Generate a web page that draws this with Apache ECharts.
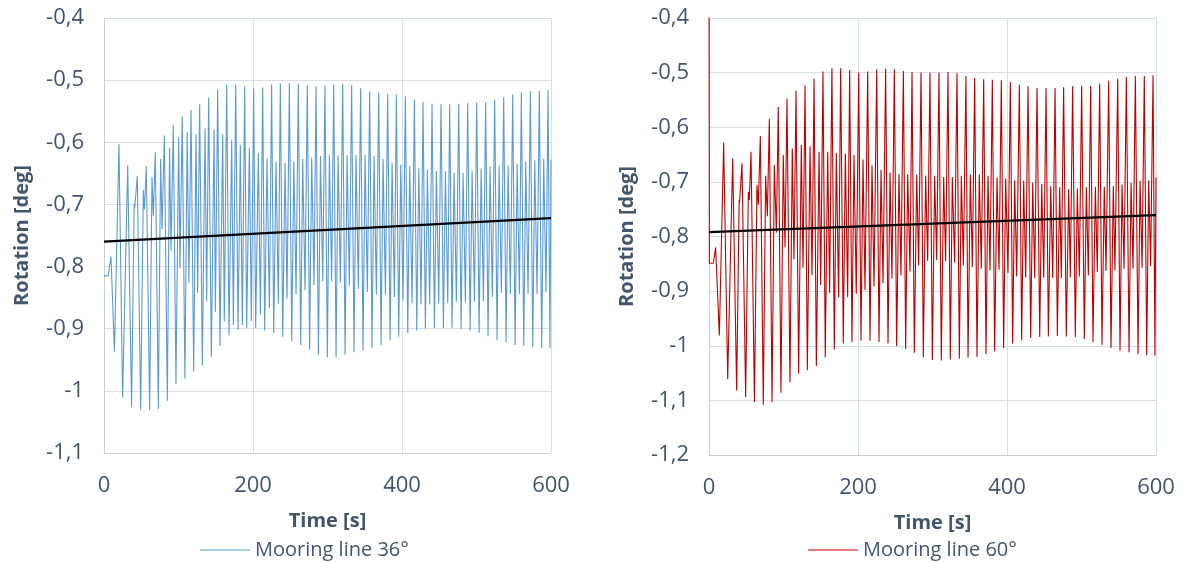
<!DOCTYPE html>
<html>
<head>
<meta charset="utf-8">
<script src="https://cdn.jsdelivr.net/npm/echarts@6/dist/echarts.min.js"></script>
<style>
html,body{margin:0;padding:0;background:#fff;}
#chart{width:1182px;height:562px;}
</style>
</head>
<body>
<div id="chart"></div>
<script>
// ---------- Data (time in s, rotation in deg) ----------
const xTicks = [0, 200, 400, 600];
const label36 = 'Mooring line 36°';
const label60 = 'Mooring line 60°';

// Mooring line 36° : start-up segment and per-cycle turning points
const time36Start = [0, 5.5, 9.4, 14.0];
const rot36Start  = [-0.815, -0.815, -0.784, -0.937];
const time36High = [20.1, 31.8, 44.7, 56.8, 68.9, 81.0, 93.0, 105.0, 116.8, 128.4, 140.5, 152.6, 164.7, 176.8, 188.8, 200.9, 213.0, 225.0, 236.7, 248.8,
  260.8, 272.9, 284.6, 296.6, 308.3, 320.4, 332.4, 344.5, 356.6, 368.7, 380.8, 392.4, 404.5, 416.6, 428.2, 440.3, 452.4, 464.0, 476.1, 488.2,
  500.3, 512.3, 524.4, 536.5, 548.6, 560.2, 572.3, 584.3, 596.0];
const rot36High = [-0.603, -0.637, -0.654, -0.638, -0.616, -0.589, -0.572, -0.559, -0.548, -0.539, -0.528, -0.515, -0.507, -0.507, -0.510, -0.513, -0.512, -0.507, -0.505, -0.505,
  -0.506, -0.508, -0.510, -0.509, -0.507, -0.506, -0.508, -0.513, -0.518, -0.520, -0.522, -0.523, -0.526, -0.531, -0.535, -0.538, -0.539, -0.539, -0.538, -0.537,
  -0.536, -0.535, -0.532, -0.527, -0.523, -0.520, -0.518, -0.517, -0.516];
const time36Deep = [25.0, 37.0, 49.2, 61.3, 72.9, 85.0, 96.6, 108.6, 120.4, 132.0, 144.1, 155.7, 167.8, 179.9, 191.5, 203.6, 215.7, 227.8, 239.9, 252.0,
  264.0, 276.0, 287.8, 299.8, 311.5, 323.6, 335.6, 347.7, 359.8, 371.9, 384.0, 395.6, 407.7, 419.8, 431.4, 443.5, 455.6, 467.2, 479.3, 491.4,
  503.5, 515.5, 527.6, 539.7, 551.8, 563.4, 575.5, 587.5, 598.6];
const rot36Deep = [-1.011, -1.026, -1.030, -1.031, -1.029, -1.016, -0.989, -0.980, -0.969, -0.959, -0.945, -0.928, -0.911, -0.902, -0.899, -0.899, -0.903, -0.907, -0.913, -0.920,
  -0.926, -0.934, -0.942, -0.946, -0.946, -0.942, -0.938, -0.935, -0.931, -0.926, -0.919, -0.913, -0.907, -0.903, -0.900, -0.899, -0.899, -0.899, -0.900, -0.903,
  -0.907, -0.912, -0.918, -0.922, -0.926, -0.928, -0.930, -0.931, -0.931];
const time36Mid = [40.5, 52.8, 64.4, 76.0, 88.0, 100.2, 111.7, 123.5, 135.6, 147.7, 159.3, 171.4, 183.0, 195.1, 207.2, 218.8, 230.9, 243.0,
  254.8, 266.7, 278.8, 290.6, 302.5, 314.2, 326.3, 338.3, 350.4, 362.5, 374.6, 386.7, 398.3, 410.4, 422.5, 434.1, 446.2, 458.3, 469.9, 482.0,
  494.1, 506.2, 518.2, 530.3, 542.4, 554.5, 566.1, 578.2, 590.2, 600];
const rot36Mid = [-0.699, -0.677, -0.656, -0.627, -0.609, -0.592, -0.584, -0.587, -0.578, -0.579, -0.587, -0.596, -0.604, -0.609, -0.617, -0.626, -0.631, -0.633,
  -0.631, -0.627, -0.625, -0.622, -0.621, -0.621, -0.621, -0.620, -0.620, -0.622, -0.627, -0.633, -0.636, -0.638, -0.642, -0.644, -0.646, -0.647, -0.649, -0.649,
  -0.646, -0.642, -0.639, -0.638, -0.637, -0.634, -0.631, -0.629, -0.627, -0.628];
const time36Shallow = [41.2, 54.2, 66.2, 77.9, 89.9, 102.0, 114.0, 125.7, 137.8, 149.5, 161.5, 173.6, 185.7, 197.8, 209.9, 222.0, 234.0, 245.7,
  257.8, 269.8, 281.9, 293.6, 305.6, 317.3, 329.4, 341.4, 353.5, 365.6, 377.7, 389.8, 401.4, 413.5, 425.6, 437.2, 449.3, 461.4, 473.0, 485.1,
  497.2, 509.3, 521.3, 533.4, 545.5, 557.6, 569.2, 581.3, 593.3];
const rot36Shallow = [-0.706, -0.708, -0.718, -0.740, -0.774, -0.803, -0.826, -0.842, -0.856, -0.873, -0.888, -0.894, -0.894, -0.888, -0.877, -0.867, -0.860, -0.852,
  -0.845, -0.838, -0.830, -0.824, -0.824, -0.826, -0.831, -0.836, -0.841, -0.845, -0.845, -0.849, -0.854, -0.859, -0.861, -0.861, -0.859, -0.859, -0.856, -0.858,
  -0.856, -0.856, -0.849, -0.842, -0.844, -0.844, -0.844, -0.844, -0.842];
const time36Trend = [0, 600];
const rot36Trend  = [-0.760, -0.722];

// Mooring line 60°
const time60Start = [0, 0.5, 5.8, 8.9, 13.9];
const rot60Start  = [-0.30, -0.849, -0.849, -0.820, -0.981];
const time60High = [19.7, 31.8, 44.3, 56.4, 68.9, 81.0, 93.0, 104.7, 116.8, 128.9, 141.0, 153.0, 165.0, 176.7, 188.8, 200.9, 213.0, 225.1, 237.1, 248.8,
  260.9, 272.5, 284.6, 296.6, 308.7, 320.8, 332.9, 344.9, 356.6, 368.7, 380.3, 392.4, 404.5, 416.6, 428.2, 440.3, 452.4, 464.5, 476.0, 488.1,
  500.2, 512.3, 524.4, 536.5, 548.6, 560.2, 572.3, 584.3, 596.0];
const rot60High = [-0.628, -0.657, -0.666, -0.645, -0.616, -0.585, -0.563, -0.548, -0.533, -0.523, -0.511, -0.498, -0.492, -0.492, -0.495, -0.500, -0.498, -0.494, -0.493, -0.494,
  -0.497, -0.499, -0.500, -0.500, -0.500, -0.499, -0.501, -0.506, -0.510, -0.512, -0.513, -0.514, -0.517, -0.522, -0.525, -0.528, -0.528, -0.528, -0.527, -0.525,
  -0.524, -0.524, -0.520, -0.515, -0.511, -0.508, -0.506, -0.506, -0.505];
const time60Deep = [25.1, 37.1, 49.2, 61.0, 72.9, 84.6, 96.6, 108.7, 120.3, 132.0, 144.1, 156.1, 168.2, 180.3, 191.9, 204.0, 216.1, 228.2, 240.3, 251.9,
  264.0, 275.6, 287.7, 299.8, 311.8, 323.9, 336.0, 347.7, 359.7, 371.8, 383.4, 395.5, 407.6, 419.7, 431.8, 443.9, 455.5, 467.6, 479.6, 491.7,
  503.8, 515.4, 527.5, 539.6, 551.7, 563.8, 575.9, 587.5, 598.6];
const rot60Deep = [-1.061, -1.082, -1.094, -1.103, -1.108, -1.103, -1.086, -1.067, -1.051, -1.045, -1.037, -1.021, -1.007, -0.996, -0.993, -0.991, -0.991, -0.993, -0.996, -1.001,
  -1.006, -1.013, -1.021, -1.026, -1.027, -1.025, -1.024, -1.022, -1.020, -1.015, -1.010, -1.004, -0.996, -0.990, -0.986, -0.984, -0.983, -0.982, -0.983, -0.984,
  -0.988, -0.993, -0.998, -1.004, -1.009, -1.012, -1.015, -1.017, -1.018];
const time60Mid = [40.5, 52.8, 64.4, 76.0, 87.7, 99.7, 111.8, 123.9, 135.6, 147.7, 159.3, 170.9, 183.0, 194.6, 206.7, 218.8, 230.9, 243.0,
  255.0, 266.7, 278.8, 290.8, 302.9, 315.0, 326.6, 338.7, 350.8, 362.8, 374.5, 386.6, 398.2, 410.3, 422.4, 434.5, 446.6, 458.7, 470.7, 482.8,
  494.4, 506.5, 518.6, 530.6, 542.7, 554.4, 566.5, 578.6, 590.2, 600];
const rot60Mid = [-0.733, -0.718, -0.706, -0.689, -0.669, -0.651, -0.639, -0.632, -0.635, -0.645, -0.645, -0.647, -0.648, -0.651, -0.659, -0.670, -0.678, -0.683,
  -0.686, -0.686, -0.687, -0.689, -0.689, -0.691, -0.691, -0.689, -0.686, -0.686, -0.689, -0.692, -0.694, -0.697, -0.698, -0.701, -0.704, -0.708, -0.710, -0.713,
  -0.712, -0.710, -0.709, -0.709, -0.708, -0.705, -0.702, -0.698, -0.697, -0.692];
const time60Shallow = [41.0, 54.1, 66.2, 78.3, 90.4, 102.0, 114.1, 126.2, 138.3, 149.9, 161.9, 174.0, 186.1, 197.7, 209.4, 221.5, 233.6, 245.6,
  257.7, 269.8, 281.4, 293.5, 305.6, 317.6, 329.7, 341.4, 353.5, 365.5, 377.2, 389.3, 401.3, 413.0, 425.1, 437.2, 449.3, 461.4, 472.9, 485.0,
  497.1, 509.2, 521.2, 532.9, 544.9, 557.1, 569.2, 581.3, 592.8];
const rot60Shallow = [-0.738, -0.733, -0.742, -0.763, -0.793, -0.820, -0.842, -0.857, -0.871, -0.889, -0.903, -0.911, -0.911, -0.905, -0.898, -0.891, -0.885, -0.877,
  -0.871, -0.864, -0.853, -0.845, -0.843, -0.845, -0.848, -0.853, -0.856, -0.859, -0.862, -0.861, -0.867, -0.873, -0.875, -0.876, -0.875, -0.876, -0.876, -0.875,
  -0.873, -0.871, -0.865, -0.863, -0.862, -0.859, -0.859, -0.857, -0.854];
const time60Trend = [0, 600];
const rot60Trend  = [-0.792, -0.761];

// ---------- build ----------
function merge(groups) {
  const pts = [];
  groups.forEach(([ts, vs]) => ts.forEach((t, i) => pts.push([t, vs[i]])));
  pts.sort((a, b) => a[0] - b[0]);
  return pts;
}
function pairs(ts, vs) { return ts.map((t, i) => [t, vs[i]]); }

const signal36 = merge([[time36Start, rot36Start], [time36High, rot36High], [time36Deep, rot36Deep], [time36Mid, rot36Mid], [time36Shallow, rot36Shallow]]);
const signal60 = merge([[time60Start, rot60Start], [time60High, rot60High], [time60Deep, rot60Deep], [time60Mid, rot60Mid], [time60Shallow, rot60Shallow]]);

const FONT = "'Open Sans', 'Noto Sans', sans-serif";
const TXT = '#44546a';
const GRID = '#d9dde4';
const AXIS = '#c7ced8';

function fmt(v) { return String(Number(v.toFixed(2))).replace('.', ','); }

function xAxisFor(i) {
  return {
    gridIndex: i, type: 'value', min: xTicks[0], max: xTicks[xTicks.length - 1], interval: xTicks[1] - xTicks[0],
    name: 'Time [s]', nameLocation: 'middle', nameGap: 58,
    nameTextStyle: { fontFamily: FONT, fontWeight: 'bold', fontSize: 20, color: TXT },
    axisLine: { show: true, onZero: false, lineStyle: { color: AXIS, width: 1 } },
    axisTick: { show: false },
    axisLabel: { fontFamily: FONT, fontSize: 22, color: TXT, margin: 22, formatter: fmt },
    splitLine: { show: true, lineStyle: { color: GRID, width: 1 } }
  };
}
function yAxisFor(i, min) {
  return {
    gridIndex: i, type: 'value', min: min, max: -0.4, interval: 0.1,
    name: 'Rotation [deg]', nameLocation: 'middle', nameGap: 72, nameRotate: 90,
    nameTextStyle: { fontFamily: FONT, fontWeight: 'bold', fontSize: 20, color: TXT },
    axisLine: { show: true, onZero: false, lineStyle: { color: AXIS, width: 1 } },
    axisTick: { show: false },
    axisLabel: { fontFamily: FONT, fontSize: 22, color: TXT, margin: 20, formatter: fmt },
    splitLine: { show: true, lineStyle: { color: GRID, width: 1 } }
  };
}

const chart = echarts.init(document.getElementById('chart'), null, { renderer: 'canvas' });
chart.setOption({
  animation: false,
  backgroundColor: '#ffffff',
  grid: [
    { left: 104, top: 18, width: 447, height: 435 },
    { left: 709, top: 18, width: 447, height: 437 }
  ],
  xAxis: [xAxisFor(0), xAxisFor(1)],
  yAxis: [yAxisFor(0, -1.1), yAxisFor(1, -1.2)],
  legend: [
    { data: [label36], left: 195, top: 535, icon: 'rect', itemWidth: 50, itemHeight: 1.2,
      textStyle: { fontFamily: FONT, fontSize: 20, color: TXT } },
    { data: [label60], left: 803, top: 535, icon: 'rect', itemWidth: 50, itemHeight: 1.2,
      textStyle: { fontFamily: FONT, fontSize: 20, color: TXT } }
  ],
  series: [
    { name: label36, type: 'line', xAxisIndex: 0, yAxisIndex: 0, data: signal36,
      symbol: 'none', showSymbol: false, clip: true, color: '#5b9bd5',
      lineStyle: { color: '#5b9bd5', width: 1.1 }, z: 2 },
    { name: 'Trend 36', type: 'line', xAxisIndex: 0, yAxisIndex: 0, data: pairs(time36Trend, rot36Trend),
      symbol: 'none', showSymbol: false, color: '#000', lineStyle: { color: '#000', width: 2.2 }, z: 3 },
    { name: label60, type: 'line', xAxisIndex: 1, yAxisIndex: 1, data: signal60,
      symbol: 'none', showSymbol: false, clip: true, color: '#c00000',
      lineStyle: { color: '#c00000', width: 1.1 }, z: 2 },
    { name: 'Trend 60', type: 'line', xAxisIndex: 1, yAxisIndex: 1, data: pairs(time60Trend, rot60Trend),
      symbol: 'none', showSymbol: false, color: '#000', lineStyle: { color: '#000', width: 2.2 }, z: 3 }
  ]
});
</script>
</body>
</html>
